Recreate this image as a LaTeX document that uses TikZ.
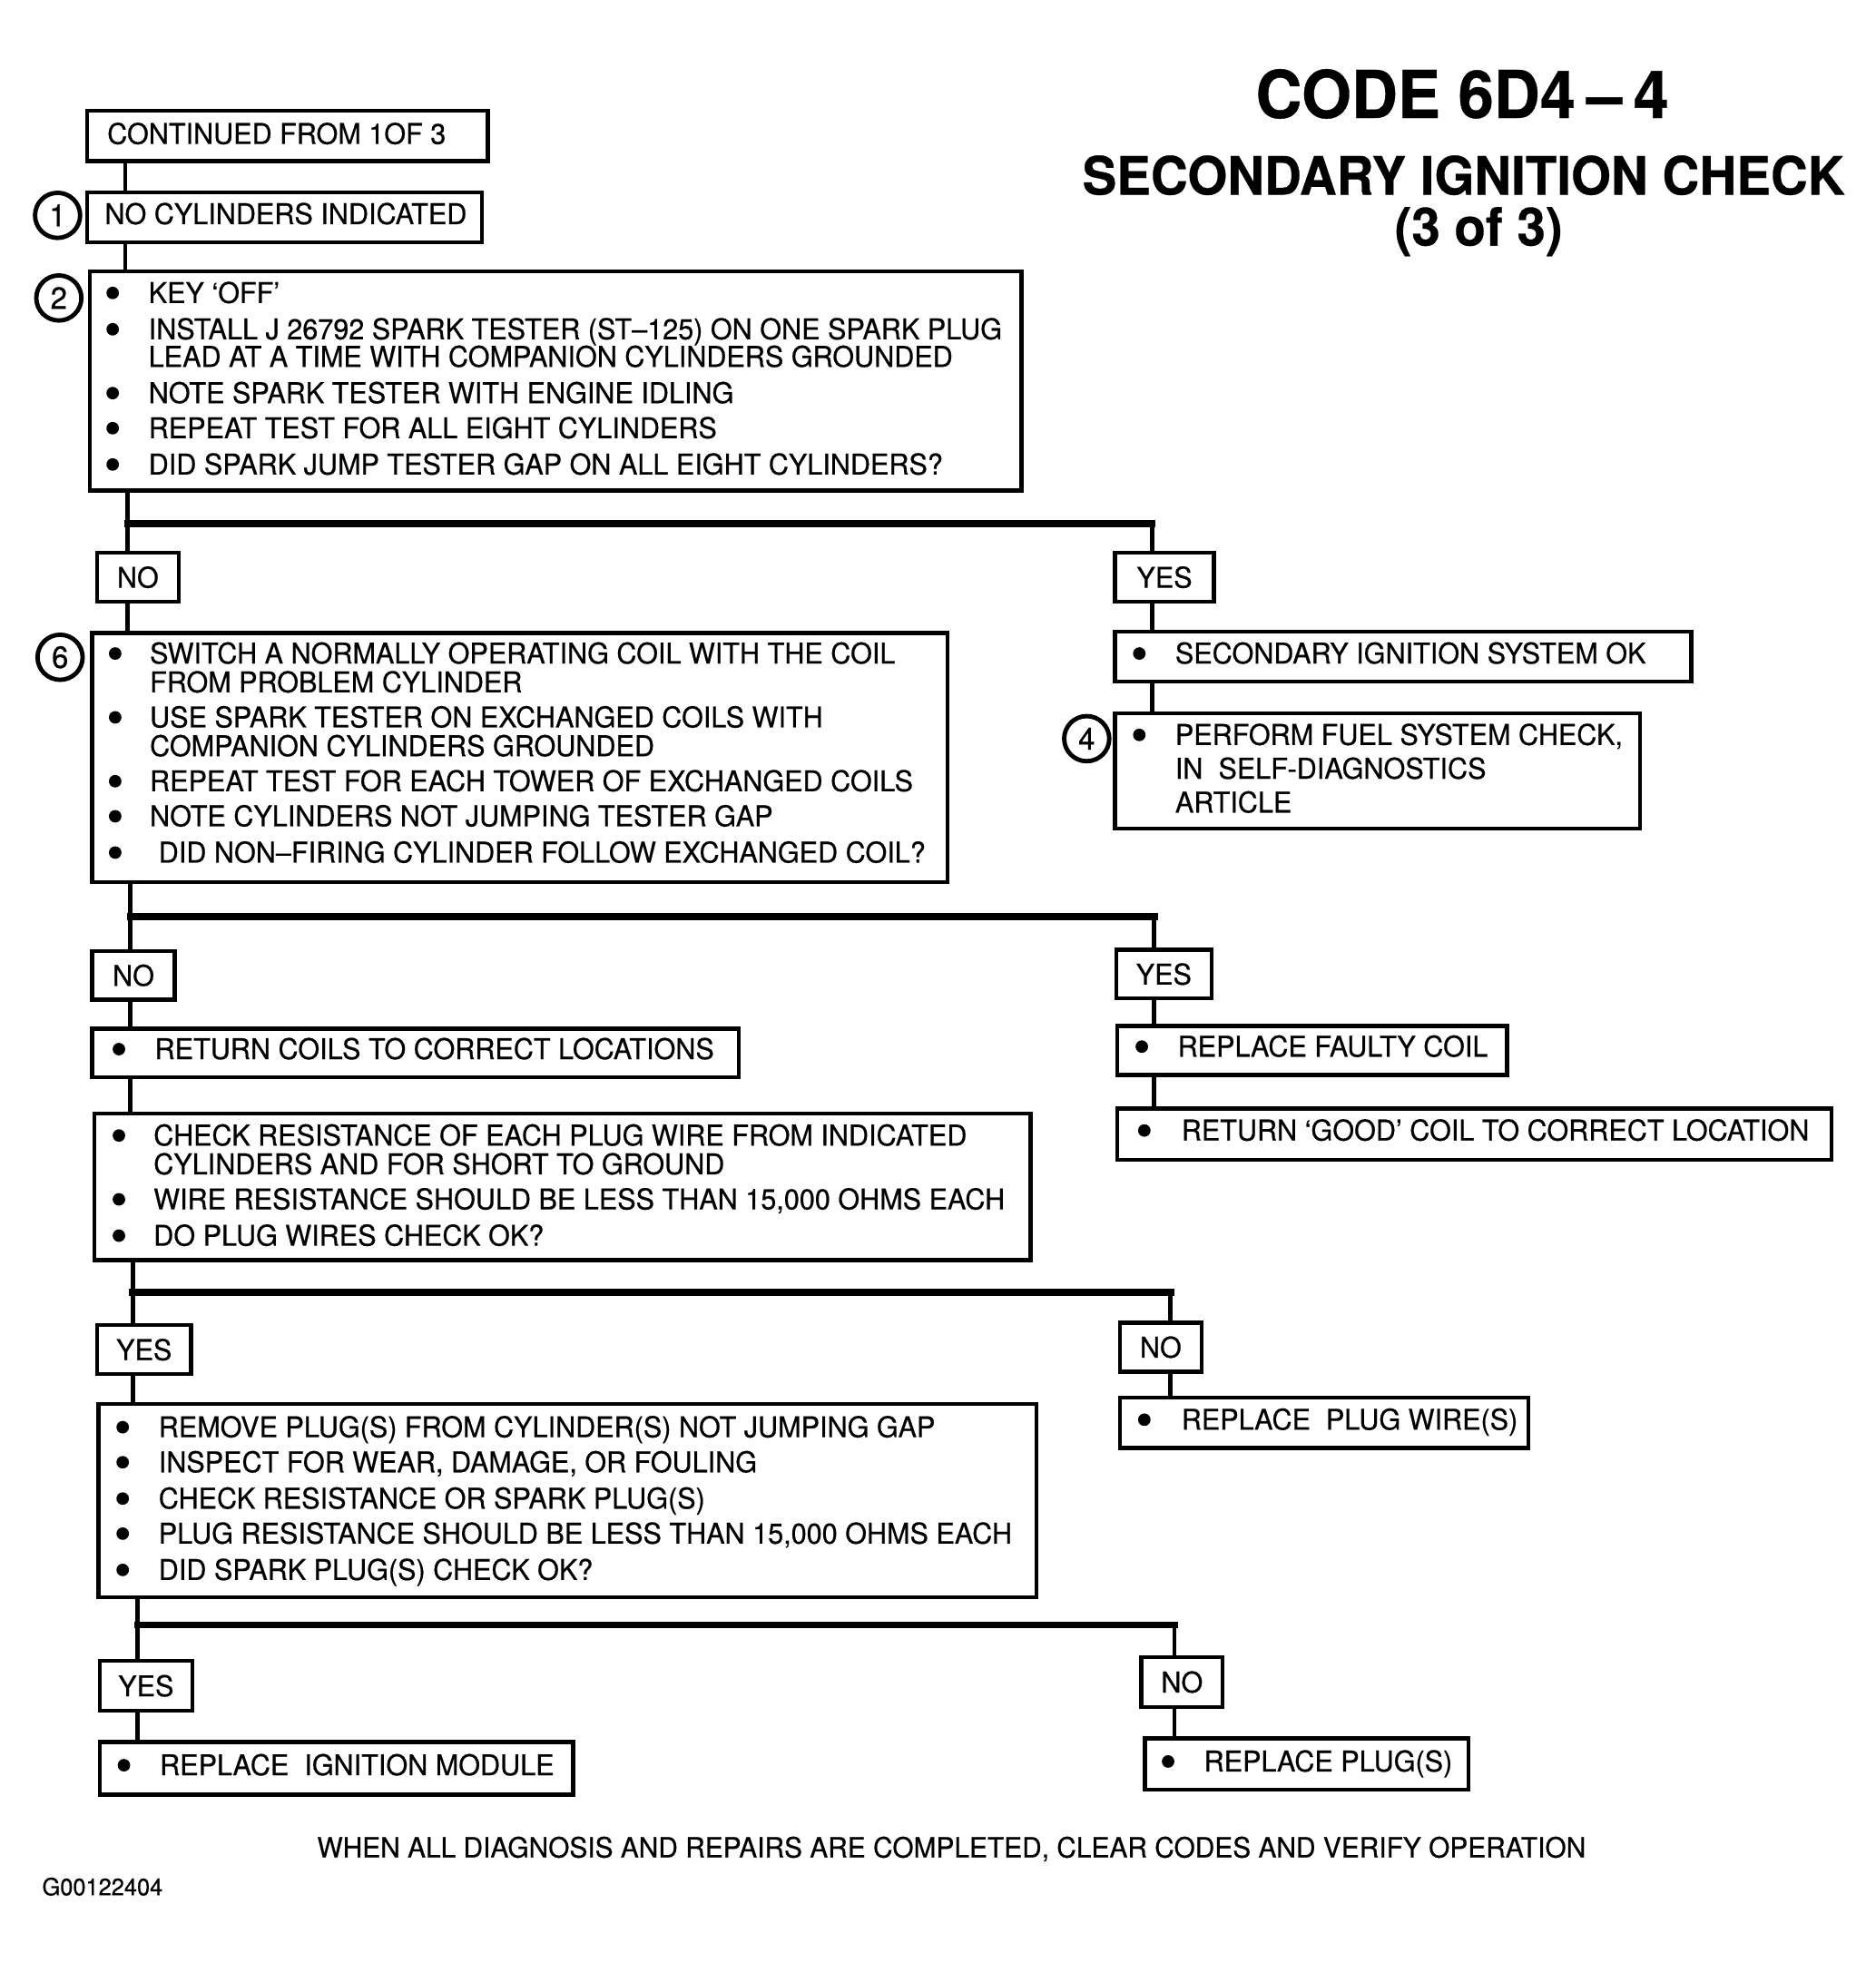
\documentclass[tikz,border=0pt]{standalone}
\usepackage{fontspec}
\setmainfont{TeX Gyre Heros}[FakeStretch=0.97,FakeBold=0.5]
\usetikzlibrary{positioning,calc}
\tikzset{
  box/.style={draw=black,line width=0.9pt,fill=white,inner sep=0pt,anchor=north west},
  tag/.style={box,minimum height=0.39cm,font=\fontsize{6.5}{7}\selectfont},
  txt/.style={font=\fontsize{6.5}{7}\selectfont,anchor=base west,inner sep=0pt},
  dot/.style={circle,fill=black,inner sep=0pt,minimum size=0.1cm},
  stepnum/.style={circle,draw=black,line width=1pt,fill=white,minimum size=0.36cm,inner sep=0pt,font=\fontsize{7}{8}\selectfont},
  link/.style={draw=black,line width=1pt},
  bar/.style={draw=black,line width=1.6pt,line cap=rect},
  head/.style={font=\bfseries\fontsize{15}{17}\selectfont},
  subhead/.style={font=\bfseries\fontsize{12}{13}\selectfont,inner sep=0pt}
}
\begin{document}
\begin{tikzpicture}[x=0.01cm,y=-0.01cm]
\path[use as bounding box] (0,0) rectangle (1498,1568);

% title
\node[head] (code) at (1168,75) {CODE 6D4\,--\,4};
\node[subhead] (sub) at (1169,140) {SECONDARY IGNITION CHECK};
\node[subhead] (part) at (1181,185) {(3 of 3)};

% start
\node[box,minimum width=3.20cm,minimum height=0.40cm] (cont) at (68,87) {};
\node[txt] (contt) at (85,115) {CONTINUED FROM 1OF 3};
\node[box,minimum width=3.15cm,minimum height=0.40cm] (nocyl) at (68,152) {};
\node[txt] (nocylt) at (83,179) {NO CYLINDERS INDICATED};
\node[stepnum] (n1) at (46,172) {1};

% spark test
\node[box,minimum width=7.44cm,minimum height=1.75cm] (chk) at (70,215) {};
\node[stepnum] (n2) at (47,238) {2};
\foreach \y [count=\i] in {234,263,314,342,371}
  \node[dot] (chkb\i) at (90,\y) {};
\foreach \y/\t [count=\i] in {234/{KEY `OFF'},263/{INSTALL J 26792 SPARK TESTER (ST--125) ON ONE SPARK PLUG},285/{LEAD AT A TIME WITH COMPANION CYLINDERS GROUNDED},314/{NOTE SPARK TESTER WITH ENGINE IDLING},342/{REPEAT TEST FOR ALL EIGHT CYLINDERS},371/{DID SPARK JUMP TESTER GAP ON ALL EIGHT CYLINDERS?}}
  \node[txt] (chkt\i) at (118,\y+8) {\t};

\node[tag,minimum width=0.65cm] (noA) at (76,440) {NO};
\node[tag,minimum width=0.79cm] (yesA) at (889,440) {YES};

% coil swap
\node[box,minimum width=6.83cm,minimum height=1.99cm] (swap) at (72,504) {};
\node[stepnum] (n6) at (48,525) {6};
\foreach \y [count=\i] in {522,573,624,652,681}
  \node[dot] (swapb\i) at (92,\y) {};
\foreach \y/\t [count=\i] in {522/{SWITCH A NORMALLY OPERATING COIL WITH THE COIL},545/{FROM PROBLEM CYLINDER},573/{USE SPARK TESTER ON EXCHANGED COILS WITH},596/{COMPANION CYLINDERS GROUNDED},624/{REPEAT TEST FOR EACH TOWER OF EXCHANGED COILS},652/{NOTE CYLINDERS NOT JUMPING TESTER GAP}}
  \node[txt] (swapt\i) at (119,\y+8) {\t};
\node[txt] (swapt7) at (126,689) {DID NON--FIRING CYLINDER FOLLOW EXCHANGED COIL?};

\node[box,minimum width=4.60cm,minimum height=0.40cm] (sysok) at (889,503) {};
\node[dot] (sysokb) at (910,522) {};
\node[txt] (sysokt) at (938,530) {SECONDARY IGNITION SYSTEM OK};
\node[box,minimum width=4.19cm,minimum height=0.92cm] (fuel) at (889,568) {};
\node[stepnum] (n4) at (868,590) {4};
\node[dot] (fuelb) at (910,587) {};
\foreach \y/\t [count=\i] in {587/{PERFORM FUEL SYSTEM CHECK,},614/{IN\ \ SELF-DIAGNOSTICS},641/{ARTICLE}}
  \node[txt] (fuelt\i) at (938,\y+8) {\t};

\node[tag,minimum width=0.66cm] (noB) at (72,758) {NO};
\node[tag,minimum width=0.76cm] (yesB) at (890,757) {YES};

\node[box,minimum width=5.16cm,minimum height=0.39cm] (retcoil) at (72,820) {};
\node[dot] (retcoilb) at (95,838) {};
\node[txt] (retcoilt) at (123,846) {RETURN COILS TO CORRECT LOCATIONS};
\node[box,minimum width=3.11cm,minimum height=0.39cm] (newcoil) at (891,818) {};
\node[dot] (newcoilb) at (912,836) {};
\node[txt] (newcoilt) at (940,844) {REPLACE FAULTY COIL};
\node[box,minimum width=5.70cm,minimum height=0.41cm] (retgood) at (891,884) {};
\node[dot] (retgoodb) at (914,903) {};
\node[txt] (retgoodt) at (943,911) {RETURN `GOOD' COIL TO CORRECT LOCATION};

% plug wires
\node[box,minimum width=7.47cm,minimum height=1.17cm] (wire) at (74,888) {};
\foreach \y [count=\i] in {907,958,987}
  \node[dot] (wireb\i) at (95,\y) {};
\foreach \y/\t [count=\i] in {907/{CHECK RESISTANCE OF EACH PLUG WIRE FROM INDICATED},930/{CYLINDERS AND FOR SHORT TO GROUND},958/{WIRE RESISTANCE SHOULD BE LESS THAN 15,000 OHMS EACH},987/{DO PLUG WIRES CHECK OK?}}
  \node[txt] (wiret\i) at (122,\y+8) {\t};

\node[tag,minimum width=0.75cm] (yesC) at (76,1057) {YES};
\node[tag,minimum width=0.65cm] (noC) at (893,1055) {NO};
\node[box,minimum width=3.26cm,minimum height=0.40cm] (newwire) at (893,1115) {};
\node[dot] (newwireb) at (914,1134) {};
\node[txt] (newwiret) at (943,1142) {REPLACE\ \ PLUG WIRE(S)};

% spark plugs
\node[box,minimum width=7.49cm,minimum height=1.54cm] (plug) at (77,1120) {};
\foreach \y/\t [count=\i] in {1140/{REMOVE PLUG(S) FROM CYLINDER(S) NOT JUMPING GAP},1168/{INSPECT FOR WEAR, DAMAGE, OR FOULING},1197/{CHECK RESISTANCE OR SPARK PLUG(S)},1225/{PLUG RESISTANCE SHOULD BE LESS THAN 15,000 OHMS EACH},1254/{DID SPARK PLUG(S) CHECK OK?}}{
  \node[dot] (plugb\i) at (98,\y) {};
  \node[txt] (plugt\i) at (126,\y+8) {\t};
}

\node[tag,minimum width=0.74cm,minimum height=0.40cm] (yesD) at (78,1325) {YES};
\node[tag,minimum width=0.65cm,minimum height=0.40cm] (noD) at (910,1322) {NO};
\node[box,minimum width=3.78cm,minimum height=0.42cm] (module) at (78,1390) {};
\node[dot] (moduleb) at (99,1410) {};
\node[txt] (modulet) at (127,1418) {REPLACE\ \ IGNITION MODULE};
\node[box,minimum width=2.58cm,minimum height=0.41cm] (newplug) at (913,1387) {};
\node[dot] (newplugb) at (933,1407) {};
\node[txt] (newplugt) at (961,1415) {REPLACE PLUG(S)};

\node[font=\fontsize{6.35}{7}\selectfont] (done) at (760,1477) {WHEN ALL DIAGNOSIS AND REPAIRS ARE COMPLETED, CLEAR CODES AND VERIFY OPERATION};
\node[font=\fontsize{5.4}{6}\selectfont,anchor=west,inner sep=0pt] (fig) at (33,1507) {G00122404};

% connectors
\coordinate (s1) at (100,0);
\draw[link] (cont.south -| s1) -- (nocyl.north -| s1);
\draw[link] (nocyl.south -| s1) -- (chk.north -| s1);
\coordinate (jA) at (102,418); \coordinate (kA) at (920,418);
\draw[link] (chk.south -| jA) -- (noA.north -| jA);
\draw[bar] (jA) -- (kA);
\draw[link] (kA) -- (yesA.north -| kA);
\draw[link] (noA.south -| jA) -- (swap.north -| jA);
\draw[link] (yesA.south -| kA) -- (sysok.north -| kA);
\draw[link] (sysok.south -| kA) -- (fuel.north -| kA);
\coordinate (jB) at (104,732); \coordinate (kB) at (922,732);
\draw[link] (swap.south -| jB) -- (noB.north -| jB);
\draw[bar] (jB) -- (kB);
\draw[link] (kB) -- (yesB.north -| kB);
\draw[link] (noB.south -| jB) -- (retcoil.north -| jB);
\draw[link] (retcoil.south -| jB) -- (wire.north -| jB);
\draw[link] (yesB.south -| kB) -- (newcoil.north -| kB);
\draw[link] (newcoil.south -| kB) -- (retgood.north -| kB);
\coordinate (jC) at (106,1032); \coordinate (kC) at (935,1032);
\draw[link] (wire.south -| jC) -- (yesC.north -| jC);
\draw[bar] (jC) -- (kC);
\draw[link] (kC) -- (noC.north -| kC);
\draw[link] (noC.south -| kC) -- (newwire.north -| kC);
\draw[link] (yesC.south -| jC) -- (plug.north -| jC);
\coordinate (jD) at (110,1298); \coordinate (kD) at (938,1298);
\draw[link] (plug.south -| jD) -- (yesD.north -| jD);
\draw[bar] (jD) -- (kD);
\draw[link] (kD) -- (noD.north -| kD);
\draw[link] (yesD.south -| jD) -- (module.north -| jD);
\draw[link] (noD.south -| kD) -- (newplug.north -| kD);
\end{tikzpicture}
\end{document}
